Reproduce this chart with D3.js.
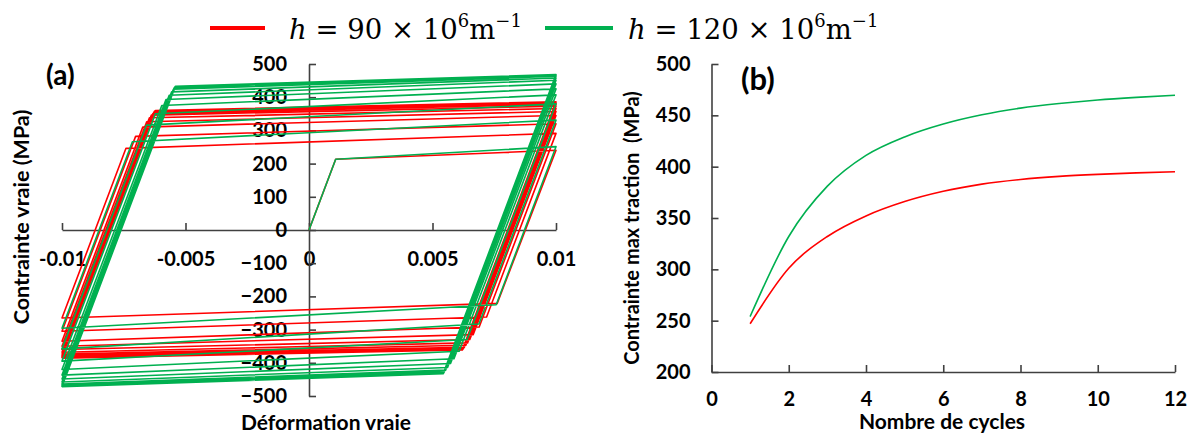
<!DOCTYPE html>
<html><head><meta charset="utf-8">
<script src="https://cdn.jsdelivr.net/npm/d3@7"></script>
<style>
html,body{margin:0;padding:0;background:#fff;}
svg{display:block;}
.lbl{font-family:Lato,"Open Sans",sans-serif;font-weight:700;fill:#000;}
</style></head>
<body>
<svg id="c" width="1196" height="435"></svg>
<script>
// ---------- DATA ----------
const seriesNames = ["h = 90 × 10⁶m⁻¹", "h = 120 × 10⁶m⁻¹"];
const seriesColors = ["#ff0000", "#00b050"];
const strainAmp = [-0.01, 0.01];

// panel (a): hysteresis loop vertices (strain, MPa)
const redTensionKnee = [[0.00108,213],[-0.00741,246],[-0.00702,282],[-0.00673,310],[-0.00657,326],[-0.00646,338],[-0.00638,346],[-0.00632,351],[-0.00628,355],[-0.00625,358],[-0.00623,359],[-0.00622,360]];
const redTensionPeak = [240,291,320,345,357,366,373,378,381,383,385,386];
const redCompKnee = [[0.00762,-221],[0.00719,-262],[0.00689,-292],[0.00665,-315],[0.00651,-330],[0.00642,-340],[0.00635,-347],[0.00629,-353],[0.00626,-356],[0.00624,-358],[0.00622,-360],[0.00621,-361]];
const redCompPeak = [-265,-305,-335,-350,-360,-368,-374,-378,-381,-383,-385,-386];

const greenTensionKnee = [[0.00108,213],[-0.00715,266],[-0.00658,316],[-0.00622,350],[-0.00596,375],[-0.00579,393],[-0.00566,406],[-0.00556,416],[-0.00549,424],[-0.00546,428],[-0.00543,431],[-0.00541,433]];
const greenTensionPeak = [251,331,380,407,425,440,451,458,463,465,467,468];
const greenCompKnee = [[0.00758,-225],[0.00688,-283],[0.00640,-330],[0.00608,-365],[0.00587,-388],[0.00573,-402],[0.00561,-414],[0.00553,-422],[0.00548,-427],[0.00546,-430],[0.00544,-432],[0.00543,-433]];
const greenCompPeak = [-296,-358,-395,-420,-437,-449,-458,-464,-467,-469,-471,-472];

// panel (b): max tensile stress per cycle
const cycles = [1,2,3,4,5,6,7,8,9,10,11,12];
const redMax = [247,301,332,352,366,376,383,387.5,390.5,392.5,394,395];
const greenMax = [254,332,381,411,429,441.5,450.5,457,461.5,465,467.5,469.5];

// ticks
const aXTicks = [-0.01,-0.005,0,0.005,0.01];
const aXTickLabels = ["-0.01","-0.005","0","0.005","0.01"];
const aYTicks = [-500,-400,-300,-200,-100,0,100,200,300,400,500];
const bXTicks = [0,2,4,6,8,10,12];
const bYTicks = [200,250,300,350,400,450,500];

// ---------- DRAW ----------
const svg = d3.select("#c");
const axisColor = "#404040";

// Panel (a)
const xa = d3.scaleLinear().domain([-0.01,0.01]).range([62,556]);
const ya = d3.scaleLinear().domain([-500,500]).range([396,64]);

function loopPoints(tk, tp, ck, cp){
  const pts = [[0,0]];
  for(let i=0;i<tk.length;i++){
    pts.push(tk[i]); pts.push([strainAmp[1], tp[i]]);
    pts.push(ck[i]); pts.push([strainAmp[0], cp[i]]);
  }
  return pts;
}
const loops = [
  loopPoints(redTensionKnee, redTensionPeak, redCompKnee, redCompPeak),
  loopPoints(greenTensionKnee, greenTensionPeak, greenCompKnee, greenCompPeak)
];
const lineA = d3.line().x(d=>xa(d[0])).y(d=>ya(d[1]));

// axes (a)
const gax = svg.append("g").attr("transform",`translate(0,${ya(0)})`)
  .call(d3.axisBottom(xa).tickValues(aXTicks).tickFormat((d,i)=>aXTickLabels[i]).tickSizeInner(-7).tickSizeOuter(0).tickPadding(22));
const gay = svg.append("g").attr("transform",`translate(${xa(0)},0)`)
  .call(d3.axisLeft(ya).tickValues(aYTicks).tickFormat(d3.format("d")).tickSizeInner(-7).tickSizeOuter(0).tickPadding(22));
[gax,gay].forEach(g=>{
  g.selectAll("path,line").attr("stroke",axisColor).attr("stroke-width",1.6);
  g.selectAll("text").attr("class","lbl").attr("font-size",20).attr("fill","#000");
});

svg.append("g").selectAll("path").data(loops).join("path")
  .attr("d",lineA).attr("fill","none")
  .attr("stroke",(d,i)=>seriesColors[i]).attr("stroke-width",1.6).attr("stroke-linejoin","round");

svg.append("text").attr("class","lbl").attr("x",46).attr("y",85).attr("font-size",28).text("(a)");
svg.append("text").attr("class","lbl").attr("font-size",21.5).attr("text-anchor","middle")
  .attr("transform","translate(29,217) rotate(-90)").text("Contrainte vraie (MPa)");
svg.append("text").attr("class","lbl").attr("font-size",21).attr("text-anchor","middle")
  .attr("x",326).attr("y",430).text("Déformation vraie");

// Panel (b)
const xb = d3.scaleLinear().domain([0,12]).range([711.5,1175]);
const yb = d3.scaleLinear().domain([200,500]).range([372,64]);
const gbx = svg.append("g").attr("transform",`translate(0,${yb(200)})`)
  .call(d3.axisBottom(xb).tickValues(bXTicks).tickFormat(d3.format("d")).tickSizeInner(-7).tickSizeOuter(0).tickPadding(20));
const gby = svg.append("g").attr("transform",`translate(${xb(0)},0)`)
  .call(d3.axisLeft(yb).tickValues(bYTicks).tickFormat(d3.format("d")).tickSizeInner(-7).tickSizeOuter(0).tickPadding(21));
[gbx,gby].forEach(g=>{
  g.selectAll("path,line").attr("stroke",axisColor).attr("stroke-width",1.6);
  g.selectAll("text").attr("class","lbl").attr("font-size",20).attr("fill","#000");
});
const lineB = d3.line().x((d,i)=>xb(cycles[i])).y(d=>yb(d)).curve(d3.curveMonotoneX);
svg.append("g").selectAll("path").data([redMax,greenMax]).join("path")
  .attr("d",lineB).attr("fill","none")
  .attr("stroke",(d,i)=>seriesColors[i]).attr("stroke-width",1.6);

svg.append("text").attr("class","lbl").attr("x",741).attr("y",90).attr("font-size",31).text("(b)");
svg.append("text").attr("class","lbl").attr("font-size",20).attr("text-anchor","middle")
  .attr("transform","translate(639,228) rotate(-90)").style("white-space","pre").text("Contrainte max traction  (MPa)");
svg.append("text").attr("class","lbl").attr("font-size",21).attr("text-anchor","middle")
  .attr("x",942).attr("y",429).text("Nombre de cycles");

// Legend
const legX = [210, 545];
const legLen = [55, 68];
const legTextX = [289, 628];
const legParts = ["90","120"];
const leg = svg.append("g");
seriesNames.forEach((name,i)=>{
  leg.append("line").attr("x1",legX[i]).attr("x2",legX[i]+legLen[i]).attr("y1",28).attr("y2",28)
    .attr("stroke",seriesColors[i]).attr("stroke-width",4);
  const t = leg.append("text").attr("x",legTextX[i]).attr("y",39)
    .attr("font-family","'DejaVu Serif','Liberation Serif',serif").attr("font-size",27.5).attr("fill","#000");
  t.append("tspan").attr("font-style","italic").text("h");
  t.append("tspan").text(" = " + legParts[i] + " × 10");
  t.append("tspan").attr("font-size",18).attr("dy",-12).text("6");
  t.append("tspan").attr("dy",12).text("m");
  t.append("tspan").attr("font-size",18).attr("dy",-12).text("−1");
});
</script>
</body></html>
